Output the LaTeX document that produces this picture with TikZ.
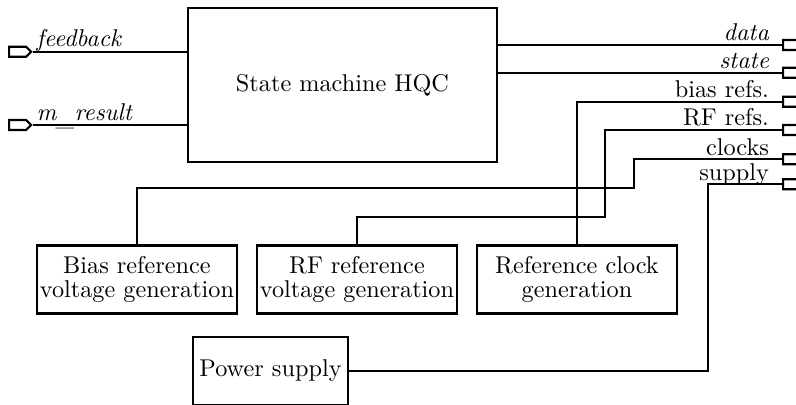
\documentclass[tikz,border=0pt]{standalone}
\usepackage{tikz}
\usetikzlibrary{shapes.symbols, positioning}
\newdimen\pxu \pxu=0.412pt

\begin{document}
\begin{tikzpicture}[x=0.412pt, y=-0.412pt, line width=0.9pt,
  block/.style={draw, rectangle, inner sep=1pt, align=center},
  genbox/.style={block, minimum width=200\pxu, minimum height=68\pxu},
  port/.style={draw, shape=signal, signal to=east, inner sep=0pt,
    minimum width=22\pxu, minimum height=10\pxu},
  inlabel/.style={font=\itshape, anchor=base west, inner sep=0pt},
  outlabel/.style={anchor=base east, inner sep=0pt}]
\clip (0,0) rectangle (796,404);
% Blocks
\node[block, minimum width=309\pxu, minimum height=154\pxu] (hqc) at (342.5,85) {State machine HQC};
\node[genbox] (biasgen) at (137,279.5) {Bias reference\\[-2.1pt] voltage generation};
\node[genbox] (rfgen) at (357,279.5) {RF reference\\[-2.1pt] voltage generation};
\node[genbox] (clkgen) at (577,279.5) {Reference clock\\[-2.1pt] generation};
\node[block, minimum width=155\pxu, minimum height=68\pxu] (psu) at (270.5,371) {Power supply};
% Ports
\node[port, anchor=west] (pfb) at (8,51.7) {};
\node[port, anchor=west] (pmres) at (8,125) {};
\node[port, anchor=west] (pdata) at (782,45) {};
\node[port, anchor=west] (pstate) at (782,72.7) {};
\node[port, anchor=west] (pbias) at (782,101.7) {};
\node[port, anchor=west] (prf) at (782,130) {};
\node[port, anchor=west] (pclk) at (782,159.3) {};
\node[port, anchor=west] (psup) at (782,184.3) {};
% Port labels
\node[inlabel] at ([xshift=3\pxu, yshift=2pt]pfb.east) {feedback};
\node[inlabel] at ([xshift=3\pxu, yshift=1.7pt]pmres.east) {m\raisebox{-2pt}{\_}result};
\node[outlabel, font=\itshape] at ([xshift=-12\pxu, yshift=1.7pt]pdata.west) {data};
\node[outlabel, font=\itshape] at ([xshift=-12\pxu, yshift=1.7pt]pstate.west) {state};
\node[outlabel] at ([xshift=-12\pxu, yshift=1.7pt]pbias.west) {bias refs.};
\node[outlabel] at ([xshift=-12\pxu, yshift=1.7pt]prf.west) {RF refs.};
\node[outlabel] at ([xshift=-12\pxu, yshift=1.7pt]pclk.west) {clocks};
\node[outlabel] at ([xshift=-12\pxu, yshift=1.7pt]psup.west) {supply};
% Bends
\coordinate (rfbend) at (605,216.7);
\coordinate (clkbend) at (634,188.3);
\coordinate (supbend) at (707.7,371);
% Connections
\draw (pfb.east) -- (pfb.east -| hqc.west);
\draw (pmres.east) -- (pmres.east -| hqc.west);
\draw (hqc.east |- pdata) -- (pdata.west);
\draw (hqc.east |- pstate) -- (pstate.west);
\draw (pbias.west) -| (clkgen.north);
\draw (prf.west) -| (rfbend) -| (rfgen.north);
\draw (pclk.west) -| (clkbend) -| (biasgen.north);
\draw (psup.west) -| (supbend) -- (psu.east);
\end{tikzpicture}
\end{document}
